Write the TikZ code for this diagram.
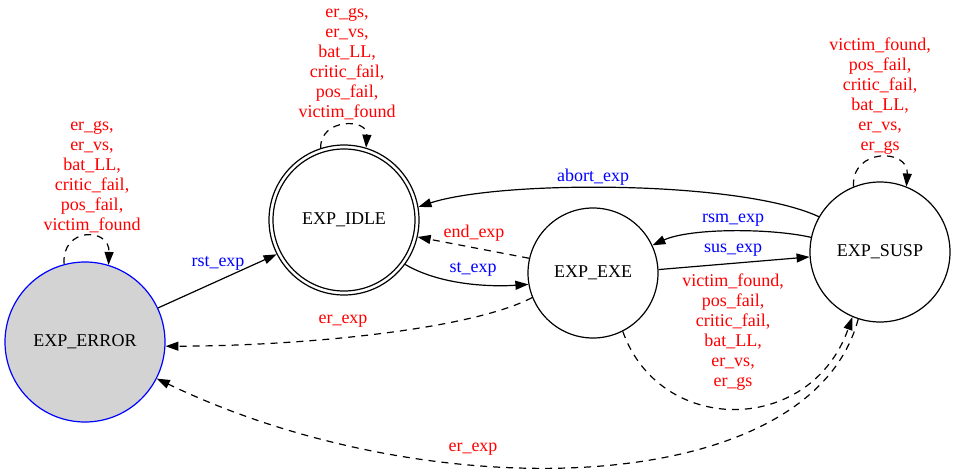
\documentclass[tikz,border=0pt]{standalone}
\usepackage{fontspec}
\setmainfont{Liberation Serif}
\usetikzlibrary{arrows.meta}
\definecolor{gvgray}{RGB}{211,211,211}
\begin{document}
\begin{tikzpicture}[x=1pt,y=-1pt,
  every node/.style={font=\fontsize{18}{20}\selectfont},
  state/.style={circle,draw,line width=1.2pt,inner sep=0pt},
  edge/.style={line width=1.2pt,-{Triangle[length=13pt,width=9pt]}},
  dsh/.style={dash pattern=on 7pt off 6pt},
  rl/.style={text=red,align=center},
  bl/.style={text=blue,align=center}]
\useasboundingbox (0,0) rectangle (956,474);

\node[state,fill=gvgray,draw=blue,minimum size=160pt] (error) at (85,342) {EXP\_ERROR};
\node[state,minimum size=150pt] (idle) at (344,220) {EXP\_IDLE};
\draw[line width=1.2pt] (idle.center) circle (71pt);
\node[state,minimum size=130pt] (exe) at (593,273) {EXP\_EXE};
\node[state,minimum size=140pt] (susp) at (880,252) {EXP\_SUSP};

% self loops
\draw[edge,dsh] (error.105) .. controls (61,227) and (110,227) .. (error.73);
\draw[edge,dsh] (idle.108) .. controls (320,118) and (368,118) .. (idle.73);
\draw[edge,dsh] (susp.112) .. controls (851,148) and (909,148) .. (susp.68);

% edges
\draw[edge] (error.25) -- (idle.-153);
\draw[edge] (susp.150) .. controls (740,180) and (500,180) .. (idle.10);
\draw[edge,dsh] (exe.167) -- (idle.-13);
\draw[edge] (idle.-36) .. controls (440,285) and (490,287) .. (exe.190);
\draw[edge] (susp.168) .. controls (770,228) and (690,228) .. (exe.25);
\draw[edge] (exe.3) -- (susp.184);
\draw[edge,dsh] (exe.-63) .. controls (660,436) and (810,436) .. (susp.-113);
\draw[edge,dsh] (exe.202) .. controls (470,330) and (300,346) .. (error.-3);
\draw[edge,dsh] (susp.-108) .. controls (810,500) and (430,510) .. (error.-27);

% labels
\node[rl] (lerrloop) at (92,177) {er\_gs,\\er\_vs,\\bat\_LL,\\critic\_fail,\\pos\_fail,\\victim\_found};
\node[rl] (lidleloop) at (347,64) {er\_gs,\\er\_vs,\\bat\_LL,\\critic\_fail,\\pos\_fail,\\victim\_found};
\node[rl] (lsusploop) at (880,96) {victim\_found,\\pos\_fail,\\critic\_fail,\\bat\_LL,\\er\_vs,\\er\_gs};
\node[bl] (lrst) at (218,263) {rst\_exp};
\node[bl] (labort) at (593,177) {abort\_exp};
\node[rl] (lend) at (474,233) {end\_exp};
\node[bl] (lst) at (473,269) {st\_exp};
\node[bl] (lrsm) at (733,220) {rsm\_exp};
\node[bl] (lsus) at (733,250) {sus\_exp};
\node[rl] (lexesusp) at (733,332) {victim\_found,\\pos\_fail,\\critic\_fail,\\bat\_LL,\\er\_vs,\\er\_gs};
\node[rl] (lerr1) at (343,321) {er\_exp};
\node[rl] (lerr2) at (473,449) {er\_exp};
\end{tikzpicture}
\end{document}
